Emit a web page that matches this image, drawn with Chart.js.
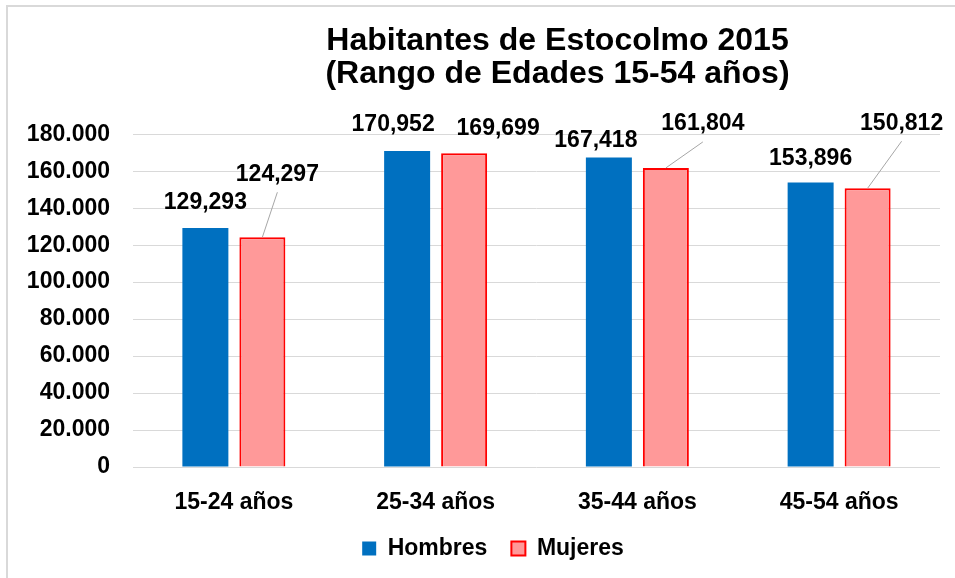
<!DOCTYPE html>
<html>
<head>
<meta charset="utf-8">
<script src="https://cdn.jsdelivr.net/npm/chart.js@4.4.1/dist/chart.umd.min.js"></script>
<style>
    html, body { margin: 0; padding: 0; background: #fff; overflow: hidden; }
    #wrap { position: relative; width: 955px; height: 578px; }
    #frame { position: absolute; left: 6px; top: 5px; width: 980px; height: 600px; border: 2px solid #D9D9D9; box-sizing: border-box; }
    #chart { position: absolute; left: 0; top: 0; }
</style>
</head>
<body>
<div id="wrap">
    <div id="frame"></div>
    <canvas id="chart" width="955" height="578"></canvas>
</div>
<script>
const categories = ['15-24 años', '25-34 años', '35-44 años', '45-54 años'];
const hombres = [129293, 170952, 167418, 153896];
const mujeres = [124297, 169699, 161804, 150812];
const yTicks = [0, 20000, 40000, 60000, 80000, 100000, 120000, 140000, 160000, 180000];

const FONT = '"Liberation Sans", Arial, sans-serif';

function dotThousands(v) {
    return String(v).replace(/\B(?=(\d{3})+(?!\d))/g, '.');
}
function commaThousands(v) {
    return String(v).replace(/\B(?=(\d{3})+(?!\d))/g, ',');
}

// label offsets from bar top centre (dx, dy) per dataset
const labelOffsets = [
    [[0, -25], [-14, -26], [-13, -17], [0, -24]],
    [[15, -63], [34, -25], [37, -44], [34, -65]]
];

const valueLabels = {
    id: 'valueLabels',
    afterDatasetsDraw(chart) {
        const ctx = chart.ctx;
        ctx.save();
        ctx.font = 'bold 23px ' + FONT;
        ctx.textAlign = 'center';
        ctx.textBaseline = 'middle';
        chart.data.datasets.forEach((ds, di) => {
            const meta = chart.getDatasetMeta(di);
            meta.data.forEach((bar, i) => {
                const [dx, dy] = labelOffsets[di][i];
                const lx = bar.x + dx;
                const ly = bar.y + dy;
                if (dy < -35) {
                    ctx.strokeStyle = '#A6A6A6';
                    ctx.lineWidth = 1;
                    ctx.beginPath();
                    ctx.moveTo(lx, ly + 18);
                    ctx.lineTo(bar.x, bar.y);
                    ctx.stroke();
                }
                ctx.fillStyle = '#000';
                ctx.fillText(commaThousands(ds.data[i]), lx, ly);
            });
        });
        ctx.restore();
    }
};

// nudge title and legend sideways to sit where the original had them
const shiftBoxes = {
    id: 'shiftBoxes',
    afterLayout(chart) {
        if (chart.titleBlock) {
            chart.titleBlock.left += 21;
            chart.titleBlock.right += 21;
        }
        if (chart.legend) {
            chart.legend.left += 10;
            chart.legend.right += 10;
        }
    }
};

const ctx = document.getElementById('chart').getContext('2d');
new Chart(ctx, {
    type: 'bar',
    data: {
        labels: categories,
        datasets: [{
            label: 'Hombres',
            data: hombres,
            backgroundColor: '#0070C0',
            borderWidth: 0,
            categoryPercentage: 0.565,
            barPercentage: 0.807
        }, {
            label: 'Mujeres',
            data: mujeres,
            backgroundColor: '#FF9999',
            borderColor: '#FF0000',
            borderWidth: 2,
            categoryPercentage: 0.565,
            barPercentage: 0.807
        }]
    },
    options: {
        responsive: false,
        animation: false,
        layout: {
            padding: { left: 26, right: 15, top: 0, bottom: 8 }
        },
        scales: {
            x: {
                grid: { display: false },
                border: { display: false },
                ticks: {
                    color: '#000',
                    padding: 14,
                    font: { family: FONT, size: 23, weight: 'bold' }
                },
                afterFit(scale) { scale.height = 46; }
            },
            y: {
                min: 0,
                max: 180000,
                afterBuildTicks(scale) {
                    scale.ticks = yTicks.map(v => ({ value: v }));
                },
                grid: {
                    color: '#D9D9D9',
                    lineWidth: 1,
                    drawTicks: false
                },
                border: { display: false },
                ticks: {
                    color: '#000',
                    padding: 23,
                    font: { family: FONT, size: 23, weight: 'bold' },
                    callback: v => dotThousands(v)
                },
                afterFit(scale) { scale.width = 107; }
            }
        },
        plugins: {
            title: {
                display: true,
                fullSize: false,
                text: ['Habitantes de Estocolmo 2015', '(Rango de Edades 15-54 años)'],
                color: '#000',
                font: { family: FONT, size: 32, weight: 'bold', lineHeight: 1.02 },
                padding: { top: 25, bottom: 44 }
            },
            legend: {
                position: 'bottom',
                labels: {
                    color: '#000',
                    boxWidth: 14,
                    boxHeight: 14,
                    padding: 24,
                    font: { family: FONT, size: 23, weight: 'bold' }
                }
            },
            tooltip: { enabled: false }
        }
    },
    plugins: [valueLabels, shiftBoxes]
});
</script>
</body>
</html>
